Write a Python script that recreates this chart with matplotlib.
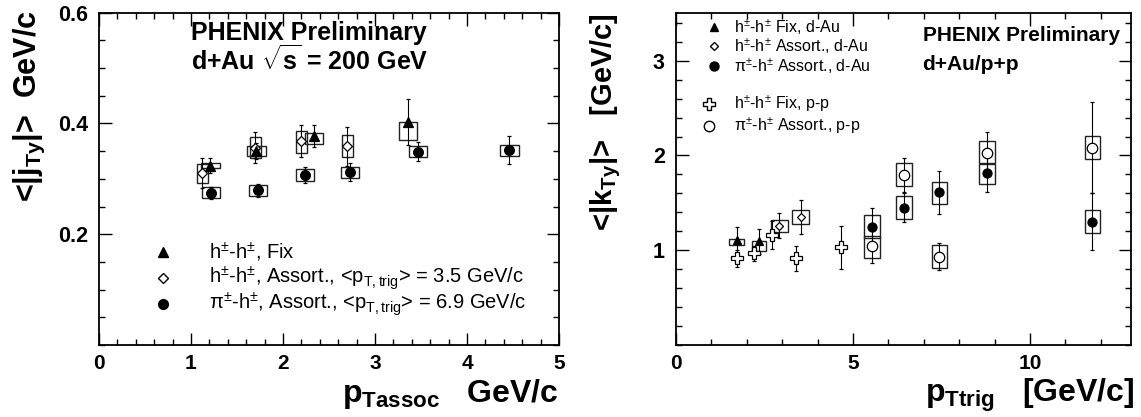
import matplotlib
matplotlib.use('Agg')
import matplotlib.pyplot as plt
from matplotlib.patches import Rectangle
from matplotlib.ticker import MultipleLocator

plt.rcParams['font.family'] = ['Liberation Sans', 'DejaVu Sans']
plt.rcParams['mathtext.fontset'] = 'custom'
plt.rcParams['mathtext.rm'] = 'Liberation Sans'
plt.rcParams['mathtext.it'] = 'Liberation Sans:italic'
plt.rcParams['mathtext.bf'] = 'Liberation Sans:bold'

# ---- left panel: <|jTy|> vs pT,assoc ----
jt_fix_x = [1.21, 1.71, 2.34, 3.36]
jt_fix_y = [0.324, 0.350, 0.377, 0.403]
jt_fix_err = [0.013, 0.015, 0.020, 0.042]
jt_fix_lo = [0.320, 0.342, 0.363, 0.370]
jt_fix_hi = [0.329, 0.360, 0.382, 0.403]

jt_as_x = [1.12, 1.70, 2.20, 2.70]
jt_as_y = [0.310, 0.356, 0.368, 0.359]
jt_as_err = [0.027, 0.028, 0.029, 0.035]
jt_as_lo = [0.293, 0.337, 0.347, 0.340]
jt_as_hi = [0.327, 0.376, 0.387, 0.379]

jt_pi_x = [1.22, 1.73, 2.24, 2.73, 3.47, 4.46]
jt_pi_y = [0.275, 0.279, 0.307, 0.312, 0.349, 0.352]
jt_pi_err = [0.011, 0.011, 0.015, 0.016, 0.017, 0.025]
jt_pi_lo = [0.265, 0.269, 0.297, 0.302, 0.339, 0.342]
jt_pi_hi = [0.285, 0.289, 0.317, 0.322, 0.359, 0.362]

# ---- right panel: <|kTy|> vs pT,trig ----
kt_fix_x = [1.71, 2.34]
kt_fix_y = [1.109, 1.095]
kt_fix_err = [0.14, 0.13]
kt_fix_lo = [1.056, 0.997]
kt_fix_hi = [1.116, 1.102]

kt_as_x = [2.92, 3.52]
kt_as_y = [1.26, 1.352]
kt_as_err = [0.135, 0.18]
kt_as_lo = [1.19, 1.275]
kt_as_hi = [1.32, 1.42]

kt_pi_x = [5.54, 6.44, 7.44, 8.79, 11.76]
kt_pi_y = [1.25, 1.45, 1.61, 1.81, 1.30]
kt_pi_err = [0.20, 0.15, 0.23, 0.20, 0.30]
kt_pi_lo = [1.13, 1.327, 1.49, 1.70, 1.18]
kt_pi_hi = [1.37, 1.567, 1.725, 1.908, 1.42]

kt_pp_fix_x = [1.71, 2.21, 2.70, 3.38, 4.67]
kt_pp_fix_y = [0.915, 0.968, 1.16, 0.915, 1.03]
kt_pp_fix_err = [0.09, 0.08, 0.15, 0.13, 0.23]

kt_pp_pi_x = [5.54, 6.44, 7.44, 8.79, 11.76]
kt_pp_pi_y = [1.04, 1.795, 0.933, 2.025, 2.08]
kt_pp_pi_err = [0.17, 0.18, 0.14, 0.22, 0.48]
kt_pp_pi_lo = [0.92, 1.68, 0.81, 1.92, 1.965]
kt_pp_pi_hi = [1.15, 1.92, 1.05, 2.15, 2.21]


def draw_series(ax, x, y, err, marker, ms, mfc, lo=None, hi=None, half_w=0.1):
    if lo is not None:
        for xi, l, h in zip(x, lo, hi):
            ax.add_patch(Rectangle((xi - half_w, l), 2 * half_w, h - l, fill=False,
                                   ec='#222222', lw=1.0, zorder=2))
    ax.errorbar(x, y, yerr=err, fmt=marker, ms=ms, mfc=mfc, mec='black', mew=0.9,
                ecolor='black', elinewidth=0.8, capsize=1.5, capthick=0.8, zorder=3)


def style_axes(ax):
    for s in ax.spines.values():
        s.set_linewidth(1.3)
    ax.tick_params(which='both', direction='in', top=True, right=True, width=1.0)
    ax.tick_params(which='major', length=9)
    ax.tick_params(which='minor', length=4.5)
    ax.tick_params(axis='x', labelsize=15, pad=6.5)
    ax.tick_params(axis='y', labelsize=15.5, pad=8)
    for lab in ax.get_xticklabels() + ax.get_yticklabels():
        lab.set_fontweight('bold')


fig = plt.figure(figsize=(11.41, 4.17), dpi=100)
ax1 = fig.add_axes([99 / 1141, 72 / 417, 460 / 1141, 332.3 / 417])
ax2 = fig.add_axes([676 / 1141, 72 / 417, 455 / 1141, 331.7 / 417])

# left panel
draw_series(ax1, jt_as_x, jt_as_y, jt_as_err, 'D', 5, 'white', jt_as_lo, jt_as_hi, 0.06)
draw_series(ax1, jt_fix_x, jt_fix_y, jt_fix_err, '^', 6.5, 'black', jt_fix_lo, jt_fix_hi, 0.1)
draw_series(ax1, jt_pi_x, jt_pi_y, jt_pi_err, 'o', 7, 'black', jt_pi_lo, jt_pi_hi, 0.1)
ax1.set_xlim(0, 5)
ax1.set_ylim(0, 0.6)
ax1.set_xticks([0, 1, 2, 3, 4, 5])
ax1.set_yticks([0.2, 0.4, 0.6])
ax1.xaxis.set_minor_locator(MultipleLocator(0.2))
ax1.yaxis.set_minor_locator(MultipleLocator(0.05))
style_axes(ax1)

ax1.text(0.2, 0.939, 'PHENIX Preliminary', transform=ax1.transAxes, fontsize=18,
         fontweight='bold', va='center')
ax1.text(0.2, 0.858, r'd+Au $\sqrt{\mathbf{s}}$ = 200 GeV', transform=ax1.transAxes,
         fontsize=18, fontweight='bold', va='center')

leg1 = [('^', 6.5, 'black', r'h$^{\pm}$-h$^{\pm}$, Fix'),
        ('D', 5, 'white', r'h$^{\pm}$-h$^{\pm}$, Assort., <p$_{\mathrm{T,trig}}$> = 3.5 GeV/c'),
        ('o', 7, 'black', r'π$^{\pm}$-h$^{\pm}$, Assort., <p$_{\mathrm{T,trig}}$> = 6.9 GeV/c')]
for (m, ms, fc, txt), yy in zip(leg1, [0.28, 0.2017, 0.123]):
    ax1.plot([0.14], [yy], m, ms=ms, mfc=fc, mec='black', transform=ax1.transAxes)
    ax1.text(0.24, yy, txt, transform=ax1.transAxes, fontsize=14.5, va='center')

# right panel
draw_series(ax2, kt_fix_x, kt_fix_y, kt_fix_err, '^', 6, 'black', kt_fix_lo, kt_fix_hi, 0.2)
draw_series(ax2, kt_as_x, kt_as_y, kt_as_err, 'D', 4.5, 'white', kt_as_lo, kt_as_hi, 0.24)
draw_series(ax2, kt_pp_fix_x, kt_pp_fix_y, kt_pp_fix_err, 'P', 8, 'white')
draw_series(ax2, kt_pp_pi_x, kt_pp_pi_y, kt_pp_pi_err, 'o', 7.5, 'white', kt_pp_pi_lo, kt_pp_pi_hi, 0.22)
draw_series(ax2, kt_pi_x, kt_pi_y, kt_pi_err, 'o', 6.5, 'black', kt_pi_lo, kt_pi_hi, 0.22)
ax2.set_xlim(0, 12.85)
ax2.set_ylim(0, 3.5)
ax2.set_xticks([0, 5, 10])
ax2.set_yticks([1, 2, 3])
ax2.xaxis.set_minor_locator(MultipleLocator(1))
ax2.yaxis.set_minor_locator(MultipleLocator(0.2))
style_axes(ax2)

ax2.text(0.542, 0.934, 'PHENIX Preliminary', transform=ax2.transAxes, fontsize=15,
         fontweight='bold', va='center')
ax2.text(0.542, 0.846, 'd+Au/p+p', transform=ax2.transAxes, fontsize=15,
         fontweight='bold', va='center')

leg2 = [('^', 6, 'black', r'h$^{\pm}$-h$^{\pm}$ Fix, d-Au', 0.084, 0.959),
        ('D', 4.5, 'white', r'h$^{\pm}$-h$^{\pm}$ Assort., d-Au', 0.084, 0.90),
        ('o', 6.5, 'black', r'π$^{\pm}$-h$^{\pm}$ Assort., d-Au', 0.084, 0.84),
        ('P', 8, 'white', r'h$^{\pm}$-h$^{\pm}$ Fix, p-p', 0.072, 0.726),
        ('o', 7.5, 'white', r'π$^{\pm}$-h$^{\pm}$ Assort., p-p', 0.072, 0.66)]
for m, ms, fc, txt, xm, yy in leg2:
    ax2.plot([xm], [yy], m, ms=ms, mfc=fc, mec='black', transform=ax2.transAxes)
    ax2.text(0.128, yy, txt, transform=ax2.transAxes, fontsize=11.5, va='center')

# axis titles (ROOT style: pushed to the axis ends)
fig.text(12 / 1141, 1 - 10 / 417, r'<|j$_{\mathbf{Ty}}$|>  GeV/c', rotation=90,
         ha='left', va='top', fontsize=22, fontweight='bold')
fig.text(588 / 1141, 1 - 13 / 417, r'<|k$_{\mathbf{Ty}}$|>   [GeV/c]', rotation=90,
         ha='left', va='top', fontsize=21, fontweight='bold')
fig.text(558 / 1141, 1 - 402 / 417, r'p$_{\mathbf{Tassoc}}$   GeV/c', ha='right',
         va='baseline', fontsize=23, fontweight='bold')
fig.text(1134 / 1141, 1 - 402 / 417, r'p$_{\mathbf{Ttrig}}$   [GeV/c]', ha='right',
         va='baseline', fontsize=23, fontweight='bold')

fig.savefig('out.png', dpi=100)
